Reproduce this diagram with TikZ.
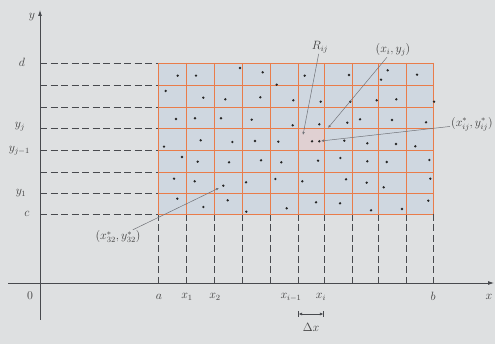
\documentclass[tikz,border=0pt]{standalone}
\usepackage{amsmath,amssymb}
\usepackage{xcolor}
\usepackage{tikz}
\usetikzlibrary{arrows.meta}
\definecolor{photobg}{RGB}{222,224,225}
\definecolor{cellbg}{RGB}{207,215,224}
\definecolor{rijbg}{RGB}{224,208,210}
\definecolor{gridline}{RGB}{233,124,74}
\definecolor{axisgray}{RGB}{72,74,78}
\definecolor{leadgray}{RGB}{112,114,120}

\begin{document}
\begin{tikzpicture}[
    x=1pt,y=-1pt,
    >=Latex,
    axis/.style={-{Latex[length=6pt,width=4pt]},axisgray,line width=0.8pt},
    guide/.style={dashed,dash pattern=on 7pt off 3.5pt,axisgray,line width=0.7pt},
    cellline/.style={gridline,line width=0.9pt},
    lead/.style={leadgray,line width=0.5pt,-{Latex[length=3pt,width=2.5pt]}},
    lbl/.style={font=\large,text=black!75,inner sep=1pt},
]
\useasboundingbox[fill=photobg] (0,0) rectangle (495,344);

% partition of the rectangle [a,b] x [c,d]
\fill[cellbg] (158,63) rectangle (433,214);
\fill[rijbg] (298,128) rectangle (324,150);
\foreach \gx in {158,186,214,242,270,298,324,352,378,406,433} {
  \draw[guide] (\gx,214) -- (\gx,283);
  \draw[cellline] (\gx,63) -- (\gx,214);
}
\foreach \gy in {63,85,107,128,150,172,193,214} {
  \draw[guide] (40,\gy) -- (158,\gy);
  \draw[cellline] (158,\gy) -- (433,\gy);
}

% sample points
\foreach \px/\py in {177.7/75.7,196/75.7,240/68,262.7/72.3,276.7/84.7,304.7/75.7,349/75,
    381/79.7,387.7/70.3,417/74.7,
    165.7/91,203.3/97.7,225.3/99.3,260.3/97.3,293.3/100.3,320.7/101.7,350.3/101.7,
    376.7/100.3,396.3/99.3,434/101.7,
    176/119,195/118.3,221/118.3,251.7/119.7,292.7/125.3,319.3/124.3,347.3/122.7,
    360/119.3,392/120,426/122.3,
    164/146.7,200.7/140.3,232.3/142,255/141,278.3/141.7,312/141.3,319.3/141.3,
    344.3/140.7,367.3/143.3,396/144,415.3/146.3,
    182/157,197.7/161.7,229/162.3,261/160.3,281.3/162.3,318/160.7,340.3/158,
    367.3/161.3,386.7/162,429.3/160,
    174/178.7,194.7/181.3,223.3/185.7,246/182.3,275.3/179,302.3/181.3,346/179.3,
    366.7/182.7,383.7/187.3,430.3/178.7,
    177.3/198.7,203.3/207,227.7/200.3,246.3/211.7,286.7/208.3,316/202.3,340/203.3,
    371/210.3,402/209,428.3/200.7}
  \fill[black!85] (\px,\py) circle (1.3pt);

% axes
\coordinate (yfoot) at (40,320);
\coordinate (ytop) at (40,10);
\coordinate (xstart) at (8,283);
\coordinate (xend) at (494,283);
\draw[axis] (yfoot) -- (ytop);
\draw[axis] (xstart) -- (xend);
\node[lbl] (ylab) at (32,17) {$y$};
\node[lbl] (xlab) at (489,297) {$x$};
\node[lbl] (orig) at (30,296) {$0$};

% left labels
\node[lbl] (dlab) at (22,62) {$d$};
\node[lbl] (yjlab) at (20,127) {$y_j$};
\node[lbl,anchor=east] (yjmlab) at (31,151) {$y_{j-1}$};
\node[lbl] (y1lab) at (21,193) {$y_1$};
\node[lbl] (clab) at (27,214) {$c$};

% bottom labels
\node[lbl] (alab) at (159,297) {$a$};
\node[lbl] (x1lab) at (187,297) {$x_1$};
\node[lbl] (x2lab) at (215,297) {$x_2$};
\node[lbl] (ximlab) at (291,297) {$x_{i-1}$};
\node[lbl] (xilab) at (321,297) {$x_i$};
\node[lbl] (blab) at (433,296) {$b$};

% width of a subinterval
\coordinate (dxl) at (298,314);
\coordinate (dxr) at (324,314);
\draw[|<->|,axisgray,line width=0.6pt,>={Latex[length=3.5pt,width=3pt]}] (dxl) -- (dxr);
\node[lbl] (dxlab) at (311,327) {$\Delta x$};

% leaders to the marked points
\node[lbl] (rijlab) at (320,47) {$R_{ij}$};
\coordinate (rijpt) at (303,135);
\draw[lead] (rijlab) -- (rijpt);

\node[lbl] (xiyjlab) at (393,50) {$(x_i,y_j)$};
\coordinate (xiyjpt) at (328,128);
\draw[lead] (xiyjlab) -- (xiyjpt);

\node[lbl,anchor=west] (starlab) at (450,124) {$(x_{ij}^*,y_{ij}^*)$};
\coordinate (starpt) at (321,141);
\draw[lead] (starlab) -- (starpt);

\node[lbl] (s32lab) at (118,237) {$(x_{32}^*,y_{32}^*)$};
\coordinate (s32pt) at (219,188);
\draw[lead] (s32lab) -- (s32pt);

\end{tikzpicture}
\end{document}
